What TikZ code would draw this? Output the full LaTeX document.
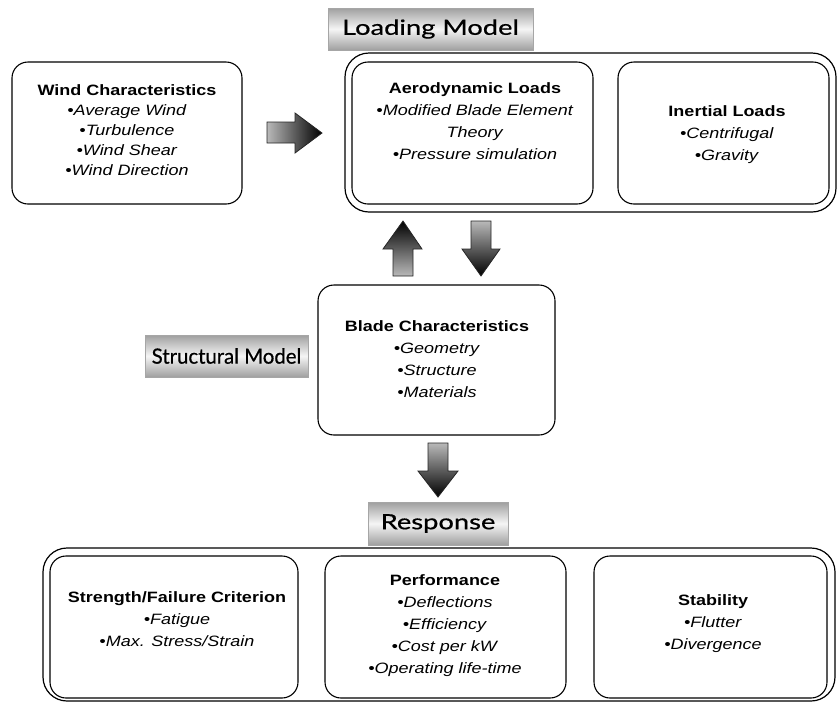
\documentclass[tikz,border=0pt]{standalone}
\usepackage{fontspec}
\setmainfont{Liberation Sans}[FakeStretch=1.2]
\newfontfamily\labelfont{Lato}[FakeStretch=1.3,FakeBold=0.6]
\newfontfamily\labelfontn{Lato}[FakeStretch=0.97,FakeBold=0.6]
\begin{document}
\begin{tikzpicture}[x=1pt,y=-1pt,
  box/.style={draw=black, line width=1.1pt, rounded corners=16pt, fill=white},
  outer/.style={draw=black, line width=1.2pt, rounded corners=24pt, fill=white},
  tag/.style={draw=gray!70, line width=0.6pt, top color=gray!75, bottom color=gray!75, middle color=gray!8, font=\labelfont\fontsize{21}{25}\selectfont, inner sep=0pt},
  txt/.style={align=center, font=\fontsize{15}{22}\selectfont, inner sep=0pt},
  blockarrow/.style={draw=black!85, line width=0.8pt}]
\useasboundingbox (0,0) rectangle (838,702);

% outer boxes
\node[outer, minimum width=491pt, minimum height=159pt] (loadouter) at (590.5,132.5) {};
\node[outer, minimum width=792pt, minimum height=153pt] (respouter) at (439,624.5) {};

% inner boxes
\node[box, minimum width=230pt, minimum height=142pt] (wind) at (127,133) {};
\node[box, minimum width=241pt, minimum height=142pt] (aero) at (472.5,133) {};
\node[box, minimum width=211pt, minimum height=142pt] (inertial) at (723.5,133) {};
\node[box, minimum width=237pt, minimum height=150pt] (blade) at (436.5,360) {};
\node[box, minimum width=248pt, minimum height=142pt] (strength) at (174,627) {};
\node[box, minimum width=241pt, minimum height=142pt] (perf) at (445.5,627) {};
\node[box, minimum width=233pt, minimum height=142pt] (stab) at (710.5,627) {};

% texts
\node[txt, font=\fontsize{15}{20}\selectfont] (windtxt) at (127,130) {\textbf{Wind Characteristics}\\\textit{•Average Wind}\\\textit{•Turbulence}\\\textit{•Wind Shear}\\\textit{•Wind Direction}};
\node[txt] (aerotxt) at (475,121.5) {\textbf{Aerodynamic Loads}\\\textit{•Modified Blade Element}\\\textit{Theory}\\\textit{•Pressure simulation}};
\node[txt] (inertxt) at (727,134.5) {\textbf{Inertial Loads}\\\textit{•Centrifugal}\\\textit{•Gravity}};
\node[txt] (bladetxt) at (437,359) {\textbf{Blade Characteristics}\\\textit{•Geometry}\\\textit{•Structure}\\\textit{•Materials}};
\node[txt] (strtxt) at (177,619) {\textbf{Strength/Failure Criterion}\\\textit{•Fatigue}\\\textit{•Max. Stress/Strain}};
\node[txt] (perftxt) at (445,626) {\textbf{Performance}\\\textit{•Deflections}\\\textit{•Efficiency}\\\textit{•Cost per kW}\\\textit{•Operating life-time}};
\node[txt] (stabtxt) at (713,624) {\textbf{Stability}\\\textit{•Flutter}\\\textit{•Divergence}};

% labels
\node[tag, minimum width=205pt, minimum height=42pt] (loading) at (430.5,29) {Loading Model};
\node[tag, minimum width=163pt, minimum height=42pt, font=\labelfontn\fontsize{21}{25}\selectfont] (structural) at (226.5,356) {Structural Model};
\node[tag, minimum width=140pt, minimum height=43pt] (response) at (438,523.5) {Response};

% block arrows
\shade[blockarrow, left color=gray!55, right color=black]
  (267,122) -- (295,122) -- (295,113) -- (322,133) -- (295,153) -- (295,143) -- (267,143) -- cycle;
\shade[blockarrow, top color=black, bottom color=gray!55]
  (393,276) -- (393,249) -- (383,249) -- (403,221) -- (422,249) -- (413,249) -- (413,276) -- cycle;
\shade[blockarrow, top color=gray!55, bottom color=black]
  (471,221) -- (491,221) -- (491,249) -- (500,249) -- (481,276) -- (462,249) -- (471,249) -- cycle;
\shade[blockarrow, top color=gray!55, bottom color=black]
  (428,443) -- (448,443) -- (448,471) -- (458,471) -- (438,497) -- (418,471) -- (428,471) -- cycle;
\end{tikzpicture}
\end{document}
